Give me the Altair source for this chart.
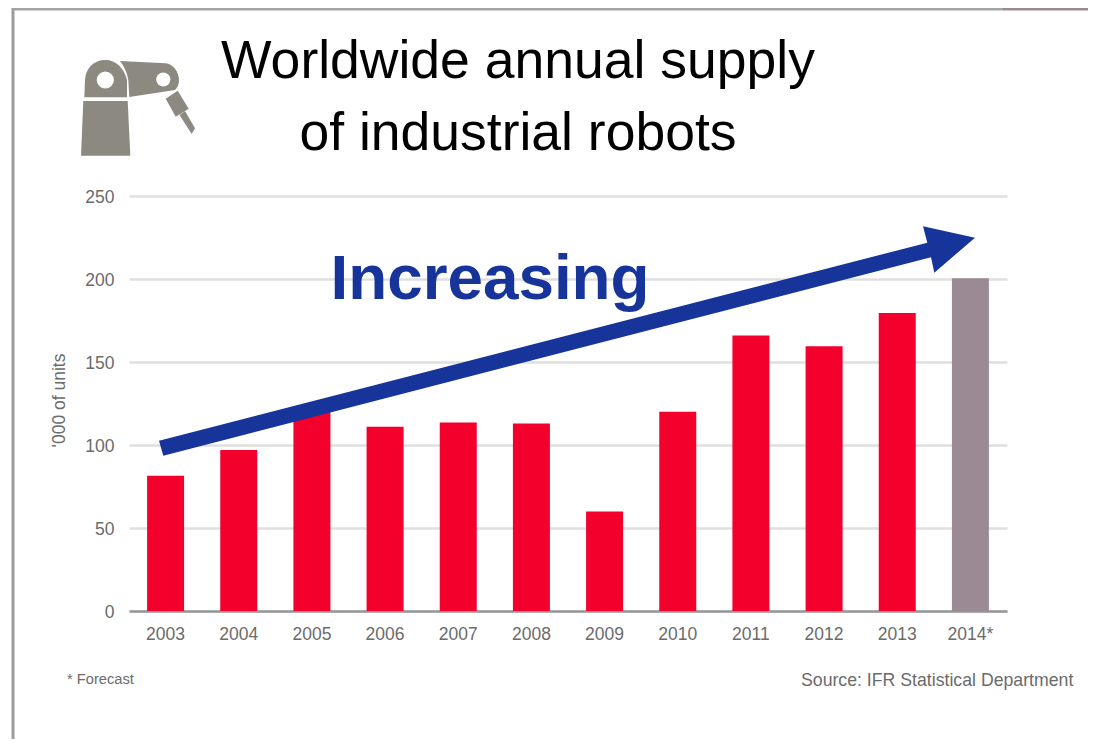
import altair as alt
import pandas as pd

years = ["2003", "2004", "2005", "2006", "2007", "2008", "2009", "2010", "2011", "2012", "2013", "2014*"]
units = [81.5, 97, 120, 111, 113.5, 113, 60, 120, 166, 159.5, 179.5, 200.5]
status = ["Actual"] * 11 + ["Forecast"]
y_ticks = [0, 50, 100, 150, 200, 250]

FONT = "Liberation Sans"
GREY_TEXT = "#6b6b6b"
BLUE = "#17349a"
ROBOT = "#8c8a80"

# Layout: page position of the plot origin
OX, OY = 129, 196
PLOT_W, PLOT_H = 878, 415

# Decoration outlines (page pixels; a custom symbol of size 4 draws 1 unit = 1 px)
ARROW_PATH = ("M159 440.7 L927.3 242.7 L923 226.3 L975 237.7 L934.3 272.7 "
              "L931 257.3 L163.3 455.7 Z")
ROBOT_BASE = "M83.3 101 L127.7 101 L130.3 155.7 L81 155.7 Z"
ROBOT_SHOULDER = "M84.3 97.3 L85 80 C85.5 68 94 60 105.3 60 C116 60 124 68 127 80 L127 97.3 Z"
ROBOT_ARM = ("M120 61 L165.7 63.3 C173 64 179 72 179 80 C179 85 177 88 175 90 "
             "L129.3 97 L128.3 80 C127 72 124 66 120 61 Z")
ROBOT_WRIST = "M177.7 90.7 L188.7 108.7 L175.7 116.7 L165.7 98.7 Z"
ROBOT_TOOL = "M185 111 L195 128.3 L191.7 134 L179.5 115 Z"

df = pd.DataFrame({"year": years, "units": units, "status": status})


def px(v):
    return alt.value(v - OX)


def py(v):
    return alt.value(v - OY)


def shape(path, color):
    return alt.Chart(df).transform_filter("datum.year == '2003'").mark_point(
        shape=path, size=4, filled=True, fill=color, opacity=1, strokeWidth=0
    ).encode(x=px(0), y=py(0))


def text(s, x, y, size, color="#000000", align="center", bold=False):
    return alt.Chart(df).transform_filter("datum.year == '2003'").mark_text(
        font=FONT, fontSize=size, color=color, align=align, baseline="alphabetic",
        fontWeight="bold" if bold else "normal",
    ).encode(x=px(x), y=py(y), text=alt.value(s))


def frame(x1, x2, y1, y2, color):
    return alt.Chart(df).transform_filter("datum.year == '2003'").mark_rule(
        color=color, strokeWidth=3
    ).encode(x=px(x1), x2=px(x2), y=py(y1), y2=py(y2))


def dot(x, y, r):
    return alt.Chart(df).transform_filter("datum.year == '2003'").mark_point(
        shape="circle", size=3.1416 * r * r, filled=True, fill="#ffffff", opacity=1, strokeWidth=0
    ).encode(x=px(x), y=py(y))


bars = alt.Chart(df).mark_bar(size=37).encode(
    x=alt.X(
        "year:N",
        sort=years,
        scale=alt.Scale(paddingInner=0, paddingOuter=0),
        axis=alt.Axis(
            title=None, labelAngle=0, ticks=False, grid=False, domainColor="#979797",
            domainWidth=2.5, labelFont=FONT, labelFontSize=17.5, labelColor=GREY_TEXT,
            labelPadding=14,
        ),
    ),
    y=alt.Y(
        "units:Q",
        scale=alt.Scale(domain=[0, 250], nice=False),
        axis=alt.Axis(
            values=y_ticks, title="'000 of units", ticks=False, domain=False,
            grid=True, gridColor="#dfdfdf", gridWidth=2.5, labelFont=FONT, labelFontSize=17.5,
            labelColor=GREY_TEXT, labelPadding=15, labelOffset=1, titleFont=FONT, titleFontSize=17.5,
            titleFontWeight="normal", titleColor=GREY_TEXT, titleAngle=270,
            titleAlign="center", titleBaseline="bottom", titleX=68 - OX, titleY=400 - OY,
        ),
    ),
    color=alt.Color(
        "status:N",
        scale=alt.Scale(domain=["Actual", "Forecast"], range=["#f3002c", "#9b8a94"]),
        legend=None,
    ),
)

chart = alt.layer(
    frame(13, 13, 8, 747, "#9c9c9c"),
    frame(13, 1003, 9, 9, "#a3a3a3"),
    frame(1003, 1096, 9, 9, "#9b8a90"),
    bars,
    shape(ARROW_PATH, BLUE),
    shape(ROBOT_BASE, ROBOT),
    shape(ROBOT_SHOULDER, ROBOT),
    shape(ROBOT_ARM, ROBOT),
    shape(ROBOT_WRIST, ROBOT),
    shape(ROBOT_TOOL, ROBOT),
    dot(105.3, 80, 9.7),
    dot(163.3, 79.5, 8),
    text("Worldwide annual supply", 518, 78, 53.5),
    text("of industrial robots", 518, 150, 53.5),
    text("Increasing", 490, 299, 63.8, BLUE, bold=True),
    text("* Forecast", 67, 684, 14.7, GREY_TEXT, align="left"),
    text("Source: IFR Statistical Department", 801, 686, 17.7, GREY_TEXT, align="left"),
).properties(
    width=PLOT_W,
    height=PLOT_H,
    background="#ffffff",
    padding={"left": OX - 8, "top": OY - 8, "right": 1080 - (OX - 8) - PLOT_W, "bottom": 731 - (OY - 8) - PLOT_H},
    autosize=alt.AutoSizeParams(type="none"),
).configure_view(stroke=None)

chart.save("out.html", embed_options={"renderer": "svg", "actions": False})
